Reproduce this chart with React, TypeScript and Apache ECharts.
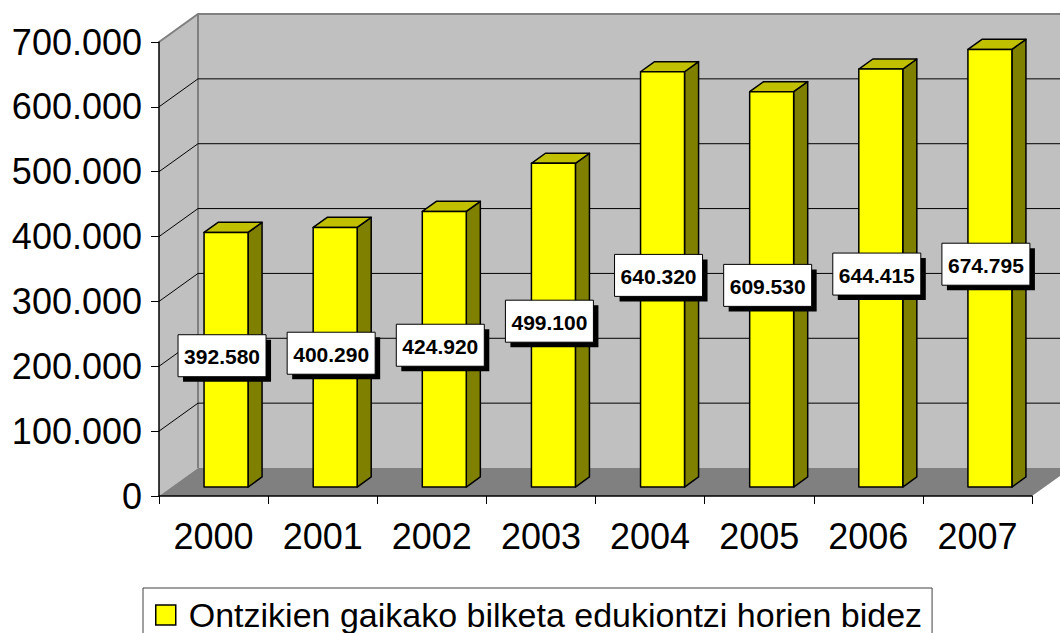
import React, { useEffect, useRef } from "react";
import * as echarts from "echarts";

const years = ["2000", "2001", "2002", "2003", "2004", "2005", "2006", "2007"];
const values = [392580, 400290, 424920, 499100, 640320, 609530, 644415, 674795];
const gridValues = [100000, 200000, 300000, 400000, 500000, 600000];
const yMin = 0;
const yMax = 700000;
const yStep = 100000;
const seriesName = "Ontzikien gaikako bilketa edukiontzi horien bidez";

const FONT = '"Liberation Sans", Arial, sans-serif';
const DX = 39;
const DY = -28;

function fmt(v: number): string {
  return String(Math.round(v)).replace(/\B(?=(\d{3})+(?!\d))/g, ".");
}

export default function App() {
  const ref = useRef<HTMLDivElement>(null);
  useEffect(() => {
    if (!ref.current) return;
    const chart = echarts.init(ref.current, null, { renderer: "svg" });

    const wallsRender = (params: any, api: any) => {
      const cs = params.coordSys;
      const x0 = cs.x, x1 = cs.x + cs.width, yt = cs.y, yb = cs.y + cs.height;
      return {
        type: "group",
        children: [
          { type: "polygon", shape: { points: [[x0 + DX, yt + DY], [x1 + DX + 60, yt + DY], [x1 + DX + 60, yb + DY], [x0 + DX, yb + DY]] }, style: { fill: "#C0C0C0" } },
          { type: "polygon", shape: { points: [[x0, yt], [x0 + DX, yt + DY], [x0 + DX, yb + DY], [x0, yb]] }, style: { fill: "#C0C0C0" } },
          { type: "polygon", shape: { points: [[x0, yb], [x0 + DX, yb + DY], [x1 + DX, yb + DY], [x1, yb]] }, style: { fill: "#808080" } },
          { type: "polyline", shape: { points: [[x0, yt], [x0 + DX, yt + DY], [x1 + DX + 60, yt + DY]] }, style: { stroke: "#808080", lineWidth: 2, fill: "none" } },
          { type: "line", shape: { x1: x0 + DX, y1: yt + DY, x2: x0 + DX, y2: yb + DY }, style: { stroke: "#808080", lineWidth: 2 } },
        ],
      };
    };

    const gridRender = (params: any, api: any) => {
      const cs = params.coordSys;
      const x0 = cs.x, x1 = cs.x + cs.width;
      const y = api.coord([0, api.value(1)])[1];
      return {
        type: "polyline",
        shape: { points: [[x0, y], [x0 + DX, y + DY], [x1 + DX + 60, y + DY]] },
        style: { stroke: "#000", lineWidth: 1, fill: "none" },
      };
    };

    const fShift = 0.32;
    const dFrac = 0.36;

    const barRender = (params: any, api: any) => {
      const i = api.value(0);
      const v = api.value(1);
      const p0 = api.coord([i, 0]);
      const p1 = api.coord([i, v]);
      const band = api.size([1, 0])[0];
      const w = band * 0.403;
      const ox = DX * fShift, oy = DY * fShift;
      const dx = DX * dFrac, dy = DY * dFrac;
      const xl = p0[0] + ox - w / 2;
      const xr = xl + w;
      const yb = p0[1] + oy;
      const yt = p1[1] + oy;
      const stroke = { stroke: "#000", lineWidth: 1.5, lineJoin: "round" };
      return {
        type: "group",
        children: [
          { type: "polygon", shape: { points: [[xr, yt], [xr + dx, yt + dy], [xr + dx, yb + dy], [xr, yb]] }, style: { fill: "#808000", ...stroke } },
          { type: "polygon", shape: { points: [[xl, yt], [xl + dx, yt + dy], [xr + dx, yt + dy], [xr, yt]] }, style: { fill: "#C0C000", ...stroke } },
          { type: "rect", shape: { x: xl, y: yt, width: w, height: yb - yt }, style: { fill: "#FFFF00", ...stroke } },
        ],
      };
    };

    const labelRender = (params: any, api: any) => {
      const i = api.value(0);
      const v = api.value(1);
      const p0 = api.coord([i, 0]);
      const p1 = api.coord([i, v]);
      const cx = p0[0] + DX * fShift - 4;
      const cy = (p0[1] + p1[1]) / 2 + DY * fShift - 4;
      const bw = 88, bh = 42;
      return {
        type: "group",
        children: [
          { type: "rect", shape: { x: cx - bw / 2 + 5, y: cy - bh / 2 + 5, width: bw, height: bh }, style: { fill: "#000" } },
          { type: "rect", shape: { x: cx - bw / 2, y: cy - bh / 2, width: bw, height: bh }, style: { fill: "#FFFFFF", stroke: "#000", lineWidth: 1 } },
          { type: "text", x: cx, y: cy + 1, style: { text: fmt(v), fill: "#000", font: `bold 21px ${FONT}`, align: "center", verticalAlign: "middle" } },
        ],
      };
    };

    const barData = values.map((v, i) => [i, v]);

    chart.setOption({
      animation: false,
      backgroundColor: "#FFFFFF",
      grid: { left: 159, right: 28, top: 42, bottom: 137, containLabel: false },
      xAxis: {
        type: "category",
        data: years,
        z: 10,
        axisLine: { show: true, lineStyle: { color: "#000", width: 1.5 } },
        axisTick: { show: true, length: 8, lineStyle: { color: "#000", width: 1 } },
        axisLabel: { fontSize: 36, color: "#000", fontFamily: FONT, margin: 22 },
        splitLine: { show: false },
      },
      yAxis: {
        type: "value",
        min: yMin,
        max: yMax,
        interval: yStep,
        z: 10,
        axisLine: { show: true, lineStyle: { color: "#000", width: 1.5 } },
        axisTick: { show: true, length: 8, lineStyle: { color: "#000", width: 1 } },
        axisLabel: { fontSize: 36, color: "#000", fontFamily: FONT, margin: 17, formatter: (v: number) => fmt(v) },
        splitLine: { show: false },
      },
      legend: {
        left: 143,
        top: 588,
        padding: [10, 10, 9, 12],
        borderColor: "#404040",
        borderWidth: 1,
        backgroundColor: "#FFFFFF",
        itemWidth: 20,
        itemHeight: 20,
        selectedMode: false,
        data: [{ name: seriesName, icon: "rect", itemStyle: { color: "#FFFF00", borderColor: "#000", borderWidth: 1.5 } }],
        textStyle: { fontSize: 34, color: "#000", fontFamily: FONT, padding: [0, 0, 0, 8] },
      },
      series: [
        { type: "custom", name: "walls", z: 1, silent: true, renderItem: wallsRender, data: [[0, 0]], encode: { x: 0, y: 1 } },
        { type: "custom", name: "grid", z: 2, silent: true, renderItem: gridRender, data: gridValues.map((v) => [0, v]), encode: { x: 0, y: 1 } },
        { type: "custom", name: seriesName, z: 3, itemStyle: { color: "#FFFF00" }, renderItem: barRender, data: barData, encode: { x: 0, y: 1 } },
        { type: "custom", name: "labels", z: 4, silent: true, renderItem: labelRender, data: barData, encode: { x: 0, y: 1 } },
      ],
    });
    return () => chart.dispose();
  }, []);
  return <div ref={ref} style={{ position: "fixed", left: 0, top: 0, width: 1060, height: 633 }} />;
}
